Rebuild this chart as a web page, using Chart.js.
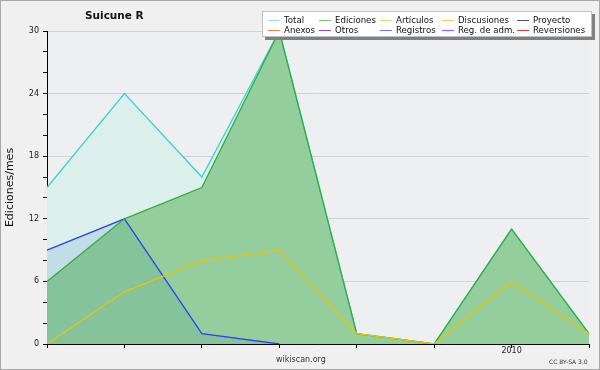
<!DOCTYPE html>
<html>
<head>
<meta charset="utf-8">
<script src="https://cdn.jsdelivr.net/npm/chart.js@4.4.1/dist/chart.umd.min.js"></script>
<style>
  html, body { margin: 0; padding: 0; background: #f0f0f0; }
  #wrap { position: relative; width: 600px; height: 370px; font-family: 'DejaVu Sans', sans-serif; }
  canvas { position: absolute; left: 0; top: 0; }
  .txt { position: absolute; white-space: nowrap; color: #111; }
  #title { left: 85px; top: 9px; font-size: 10.5px; font-weight: bold; }
  #site { left: 276px; top: 355px; font-size: 8px; color: #333; }
  #lic { left: 549px; top: 358px; font-size: 6px; color: #333; }
  #legend { position: absolute; left: 262px; top: 11px; width: 328px; height: 24px;
            background: #fff; border: 1px solid #c0c0c0; box-shadow: 3px 3px 0 #808080; }
  .item { position: absolute; font-size: 8.6px; line-height: 10px; color: #111; white-space: nowrap; }
  .item i { position: absolute; top: 5px; width: 12px; height: 1px; }
</style>
</head>
<body>
<div id="wrap">
  <canvas id="myChart" width="600" height="370"></canvas>
  <div class="txt" id="title">Suicune R</div>
  <div class="txt" id="site">wikiscan.org</div>
  <div class="txt" id="lic">CC BY-SA 3.0</div>
  <div id="legend"></div>
</div>
<script>
// monthly edit counts
const months = ['2009-07', '2009-08', '2009-09', '2009-10', '2009-11', '2009-12', '2010-01', '2010-02'];
const total = [15, 24, 16, 30, 1, 0, 11, 1];
const ediciones = [6, 12, 15, 30, 1, 0, 11, 1];
const registros = [9, 12, 1, 0, null, null, null, null];
const discusiones = [0, 5, 8, 9, 1, 0, 6, 1];
const yMax = 30;
const yLabelStep = 6;

const legendNames = ['Total', 'Ediciones', 'Artículos', 'Discusiones', 'Proyecto',
                     'Anexos', 'Otros', 'Registros', 'Reg. de adm.', 'Reversiones'];
const legendColors = ['#9fe3e3', '#7cc47c', '#c4f07c', '#f2d060', '#555555',
                      '#f08048', '#9048e0', '#6878f0', '#c048e0', '#e03838'];

// legend box, 5 per row
const colX = [5, 56, 117, 179, 254];
const legend = document.getElementById('legend');
legendNames.forEach((name, i) => {
  const el = document.createElement('div');
  el.className = 'item';
  el.style.left = colX[i % 5] + 'px';
  el.style.top = (i < 5 ? 3 : 13) + 'px';
  el.innerHTML = '<i style="left:0;background:' + legendColors[i] + '"></i>' +
                 '<span style="margin-left:16px">' + name + '</span>';
  legend.appendChild(el);
});

const background = {
  id: 'background',
  beforeDraw(chart) {
    const c = chart.ctx, a = chart.chartArea;
    c.save();
    c.fillStyle = '#f0f0f0';
    c.fillRect(0, 0, chart.width, chart.height);
    c.fillStyle = '#eeeff1';
    c.fillRect(a.left, a.top, a.right - a.left, a.bottom - a.top);
    c.strokeStyle = '#a8a8a8';
    c.lineWidth = 1;
    c.strokeRect(0.5, 0.5, chart.width - 1, chart.height - 1);
    c.restore();
  }
};

Chart.defaults.font.family = 'DejaVu Sans';

var ctx = document.getElementById('myChart').getContext('2d');
var myChart = new Chart(ctx, {
  type: 'line',
  data: {
    labels: months,
    datasets: [
      {
        label: 'Total',
        data: total,
        borderColor: '#3fd2d2',
        backgroundColor: '#dbf0ea',
        fill: 'origin',
        order: 4
      },
      {
        label: 'Registros',
        data: registros,
        borderColor: '#2f3ff5',
        backgroundColor: 'rgba(140,180,225,0.32)',
        fill: 'origin',
        order: 3
      },
      {
        label: 'Ediciones',
        data: ediciones,
        borderColor: '#2fae3c',
        backgroundColor: 'rgba(50,160,50,0.42)',
        fill: 'origin',
        order: 2
      },
      {
        label: 'Discusiones',
        data: discusiones,
        borderColor: '#ecc400',
        fill: false,
        order: 1
      }
    ]
  },
  options: {
    responsive: false,
    animation: false,
    elements: {
      line: { tension: 0, borderWidth: 1.3 },
      point: { radius: 0 }
    },
    layout: {
      padding: { top: 31, right: 11, bottom: 0, left: 0 }
    },
    scales: {
      x: {
        offset: false,
        grid: { drawOnChartArea: false, tickLength: 4, tickColor: '#000' },
        border: { color: '#000' },
        ticks: {
          autoSkip: false,
          maxRotation: 0,
          padding: -2,
          color: '#222',
          font: { size: 8 },
          callback: function (v, i) {
            const m = months[i];
            return m.endsWith('-01') ? m.slice(0, 4) : '';
          }
        },
        afterFit: s => { s.height = 26; }
      },
      y: {
        min: 0,
        max: yMax,
        grid: {
          tickLength: 4,
          tickColor: '#000',
          color: c => (c.tick && c.tick.value % yLabelStep === 0) ? '#d2d2d2' : 'rgba(0,0,0,0)'
        },
        border: { color: '#000' },
        ticks: {
          stepSize: 2,
          autoSkip: false,
          padding: 4,
          color: '#222',
          font: { size: 8 },
          callback: v => (v % yLabelStep === 0 ? v : '')
        },
        title: {
          display: true,
          text: 'Ediciones/mes',
          color: '#111',
          font: { size: 11 },
          padding: { top: 4, bottom: 0 }
        },
        afterFit: s => { s.width = 47; }
      }
    },
    plugins: {
      legend: { display: false },
      tooltip: { enabled: false },
      filler: { drawTime: 'beforeDatasetsDraw' }
    }
  },
  plugins: [background]
});
</script>
</body>
</html>
